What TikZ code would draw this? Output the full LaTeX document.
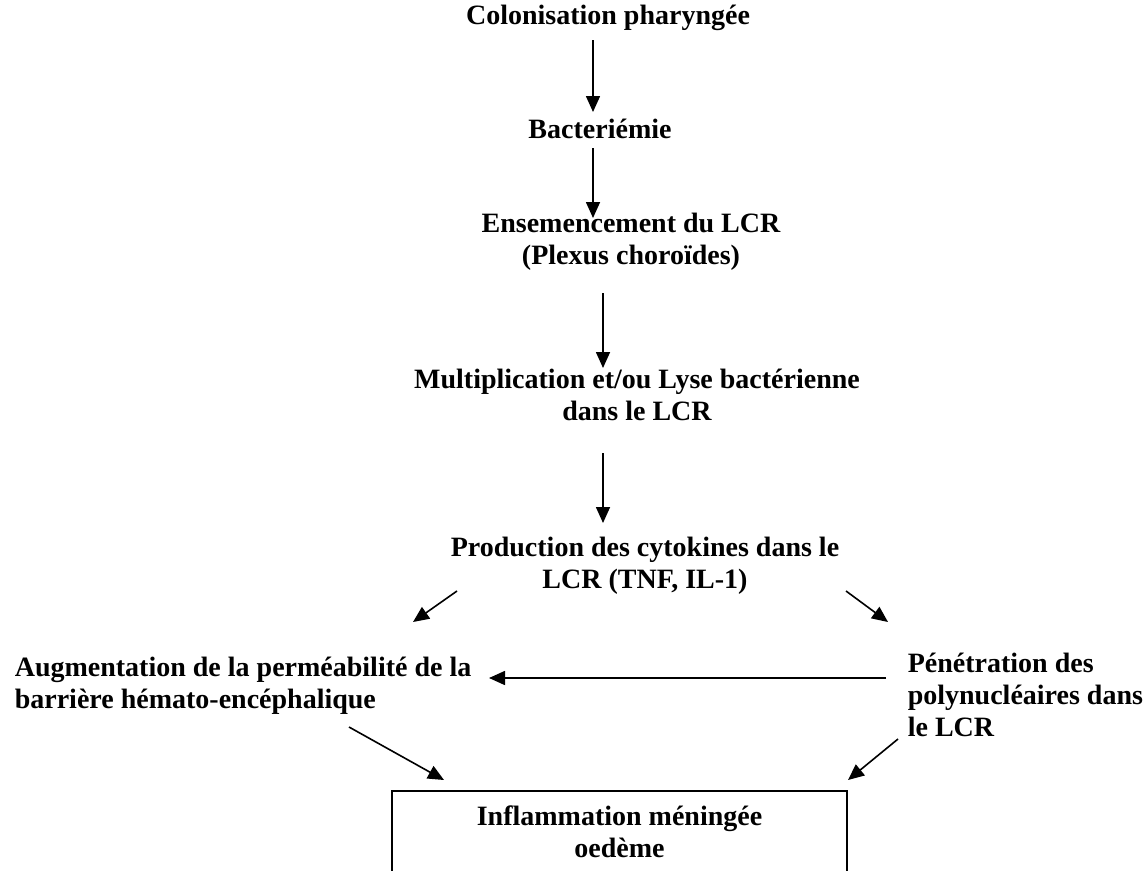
\documentclass[tikz,border=0pt]{standalone}
\usepackage{fontspec}
\setmainfont{Liberation Serif}
\usetikzlibrary{arrows.meta}

\begin{document}
\begin{tikzpicture}[->,>={Triangle[length=16pt,width=14pt]},x=1pt,y=-1pt,
                    line width=1.6pt]
  \tikzstyle{every node}=[
  font=\fontsize{28}{32}\selectfont\bfseries,inner sep=0pt,align=center,anchor=base]
  \useasboundingbox (0,0) rectangle (1145,870);
  \clip (0,0) rectangle (1145,870);

  % base anchor = baseline of the last line
  \node (colon) at (608,24)  {Colonisation pharyngée};
  \node (bact)  at (600,138) {Bacteriémie};
  \node (ens)   at (631,264) {Ensemencement du LCR\\(Plexus choroïdes)};
  \node (mult)  at (637,420) {Multiplication et/ou Lyse bactérienne\\dans le LCR};
  \node (prod)  at (645,588) {Production des cytokines dans le\\LCR (TNF, IL-1)};
  \node[anchor=base west,align=left] (aug) at (14,708)
      {Augmentation de la perméabilité de la\\barrière hémato-encéphalique};
  \node[anchor=base west,align=left] (pen) at (907,736)
      {Pénétration des\\polynucléaires dans\\le LCR};
  \node[draw,minimum width=455pt,inner ysep=14pt] (infl) at (619.5,857)
      {Inflammation méningée\\oedème\strut};

  \coordinate (colon-out) at (593,40);  \coordinate (bact-in)  at (593,112);
  \coordinate (bact-out)  at (593,148); \coordinate (ens-in)   at (593,218);
  \coordinate (ens-out)   at (603,293); \coordinate (mult-in)  at (603,368);
  \coordinate (mult-out)  at (603,453); \coordinate (prod-in)  at (603,523);
  \coordinate (prod-l)    at (457,591); \coordinate (aug-in)   at (413,622);
  \coordinate (prod-r)    at (846,591); \coordinate (pen-in)   at (888,622);
  \coordinate (pen-out)   at (886,678); \coordinate (aug-r)    at (489,678);
  \coordinate (aug-out)   at (349,727); \coordinate (infl-l)   at (444,780);
  \coordinate (pen-low)   at (898,739); \coordinate (infl-r)   at (848,780);

  \path (colon-out) edge (bact-in)
        (bact-out)  edge (ens-in)
        (ens-out)   edge (mult-in)
        (mult-out)  edge (prod-in)
        (prod-l)    edge (aug-in)
        (prod-r)    edge (pen-in)
        (pen-out)   edge (aug-r)
        (aug-out)   edge (infl-l)
        (pen-low)   edge (infl-r);

\end{tikzpicture}
\end{document}
